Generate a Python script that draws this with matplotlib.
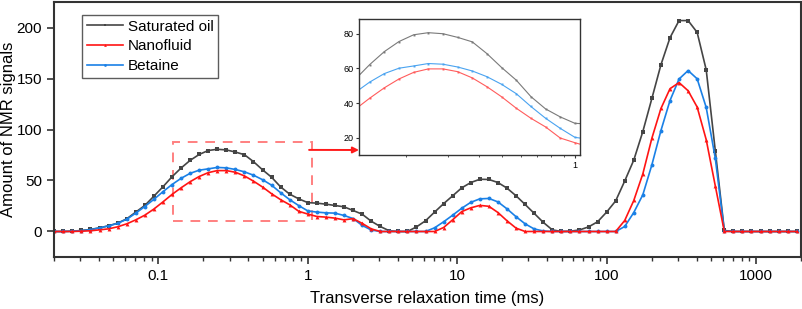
import numpy as np
import matplotlib
matplotlib.use("Agg")
import matplotlib.pyplot as plt
from matplotlib.patches import Rectangle
from matplotlib.ticker import LogLocator, NullFormatter

plt.rcParams['font.family'] = ['Liberation Sans', 'DejaVu Sans']

# T2 bins of the inversion (100 log-spaced bins, 0.01-10000 ms); only bins 5..87 are in view
t2 = np.logspace(-2, 4, 100)[5:88]

saturated_oil = [
    0, 0, 0.3, 1, 2, 3.6, 5.6, 8.2, 12.4, 19, 25.5, 34.6, 43.8, 53.6,
    62.2, 69.7, 75.5, 79.4, 80.6, 80.0, 77.9, 75.3, 68.5, 60.5, 53.2, 43.7,
    36.6, 32.0, 28.3, 27.8, 26.8, 25.5, 24.2, 20.6, 17.0, 10.1, 4.9, 0.7,
    0, 0, 4.5, 10.5, 19, 27.3, 35, 42.8, 48, 51.2, 51.0, 48, 42.5, 35,
    26.5, 17.8, 9, 1.6, 0, 0.3, 1.5, 4.5, 9.5, 19, 30, 49.5, 70, 98,
    130.5, 163.5, 190, 206.8, 206.8, 195.2, 158.5, 79.4, 1,
    0, 0, 0, 0, 0, 0, 0, 0,
]
nanofluid = [
    0, 0, 0, 0.3, 0.7, 1.6, 2.6, 4.6, 7.5, 11.4, 16, 22, 29, 36.3,
    42.8, 48.8, 53.9, 57.7, 59.7, 59.7, 58.1, 54.5, 49.4, 43.6, 37, 31.2,
    26.2, 19.8, 17.1, 14.7, 14.1, 13.1, 11.4, 12.6, 8, 2.6,
    0, 0, 0, 0, 0, 0, 0,
    3.9, 11.5, 19.5, 23.2, 25.6, 24.7, 18.6, 10.5, 3.3,
    0, 0, 0, 0, 0, 0, 0, 0, 0, 0, 0,
    10.8, 30.4, 56.5, 91.5, 120.6, 140, 146, 138, 122, 90, 44.8,
    0, 0, 0, 0, 0, 0, 0, 0, 0,
]
betaine = [
    0, 0, 0.3, 0.8, 1.8, 3.5, 5.5, 8, 12, 18, 24.5, 31.5, 39, 46,
    52.1, 57, 60.1, 61.4, 62.8, 62.4, 60.8, 58.5, 55.2, 50.8, 45.4, 38,
    31.2, 25.4, 20.2, 19, 18.3, 18, 15.7, 12.7, 6, 1.5,
    0, 0, 0, 0, 0, 0,
    3.6, 9.5, 16, 22.8, 28.6, 32, 32.4, 29, 22.2, 14.5, 7.5, 2.5, 0.5, 0,
    0, 0, 0, 0, 0, 0, 0,
    4.9, 18.6, 36, 65.4, 99, 128.4, 149.5, 157.8, 149.7, 121.6, 71.9, 0.5,
    0, 0, 0, 0, 0, 0, 0, 0,
]

series = [
    ("Saturated oil", saturated_oil, "#454545", "#7a7a7a", "s"),
    ("Betaine", betaine, "#1a80e6", "#4aa3f0", "o"),
    ("Nanofluid", nanofluid, "#ff1414", "#ff5c5c", "^"),
]

fig = plt.figure(figsize=(8.03, 3.09), dpi=100)
ax = fig.add_axes([0.0672, 0.1683, 0.9303, 0.8252])

handles = {}
for name, vals, col, _, mk in series:
    (ln,) = ax.plot(t2, vals, color=col, lw=1.2, marker=mk, ms=2.8,
                    markeredgewidth=0, label=name)
    handles[name] = ln

ax.set_xscale('log')
ax.set_xlim(0.02, 2000)
ax.set_ylim(-25, 225)
ax.set_xticks([0.1, 1, 10, 100, 1000])
ax.set_xticklabels(["0.1", "1", "10", "100", "1000"])
ax.xaxis.set_minor_locator(LogLocator(base=10, subs=np.arange(2, 10)))
ax.xaxis.set_minor_formatter(NullFormatter())
ax.set_yticks([0, 50, 100, 150, 200])
ax.tick_params(which='major', direction='out', length=5, width=1.2, labelsize=11, colors='#333333', labelcolor='black')
ax.tick_params(which='minor', direction='out', length=3, width=1.0, colors='#333333')
ax.tick_params(top=False, right=False, which='both')
for sp in ax.spines.values():
    sp.set_linewidth(1.5)
    sp.set_color('#333333')
ax.set_xlabel("Transverse relaxation time (ms)", fontsize=12, labelpad=6)
ax.set_ylabel("Amount of NMR signals", fontsize=12)
ax.yaxis.set_label_coords(-0.0505, 0.5)

leg = ax.legend([handles["Saturated oil"], handles["Nanofluid"], handles["Betaine"]],
                ["Saturated oil", "Nanofluid", "Betaine"],
                loc='upper left', bbox_to_anchor=(0.0375, 0.949), borderaxespad=0,
                fontsize=11, frameon=True, fancybox=False, edgecolor='#333333',
                handlelength=2.4, borderpad=0.3, labelspacing=0.38,
                handletextpad=0.3, markerscale=0.7)
leg.get_frame().set_linewidth(1.0)

# zoom box and arrow
box_x0, box_x1, box_y0, box_y1 = 0.126, 1.06, 10, 88
ax.add_patch(Rectangle((box_x0, box_y0), box_x1 - box_x0, box_y1 - box_y0,
                       fill=False, edgecolor='#ff8080', lw=1.4, ls=(0, (5, 4))))
ax.annotate("", xy=(359 / 803, 1 - 150 / 309), xycoords='figure fraction',
            xytext=(1.02, 80), textcoords='data',
            arrowprops=dict(arrowstyle='-|>', color='#ff1a1a', lw=1.4,
                            mutation_scale=9, shrinkA=0, shrinkB=0))

# inset
ins = fig.add_axes([359 / 803, 1 - 155 / 309, 221 / 803, 136 / 309])
for name, vals, _, col, mk in series:
    ins.plot(t2, vals, color=col, lw=0.8, marker='s', ms=1.4, markeredgewidth=0)
ins.set_xscale('log')
ins.set_xlim(0.128, 1.05)
ins.set_ylim(10, 88.5)
ins.set_xticks([1])
ins.set_xticklabels(["1"])
ins.xaxis.set_minor_locator(LogLocator(base=10, subs=np.arange(2, 10)))
ins.xaxis.set_minor_formatter(NullFormatter())
ins.set_yticks([20, 40, 60, 80])
ins.tick_params(which='major', direction='out', length=2.5, width=0.8, labelsize=6.5, pad=1.5, colors='#333333', labelcolor='black')
ins.tick_params(which='minor', direction='out', length=1.5, width=0.6, colors='#333333')
for sp in ins.spines.values():
    sp.set_linewidth(1.0)
    sp.set_color('#333333')

fig.savefig("out.png", dpi=100)
